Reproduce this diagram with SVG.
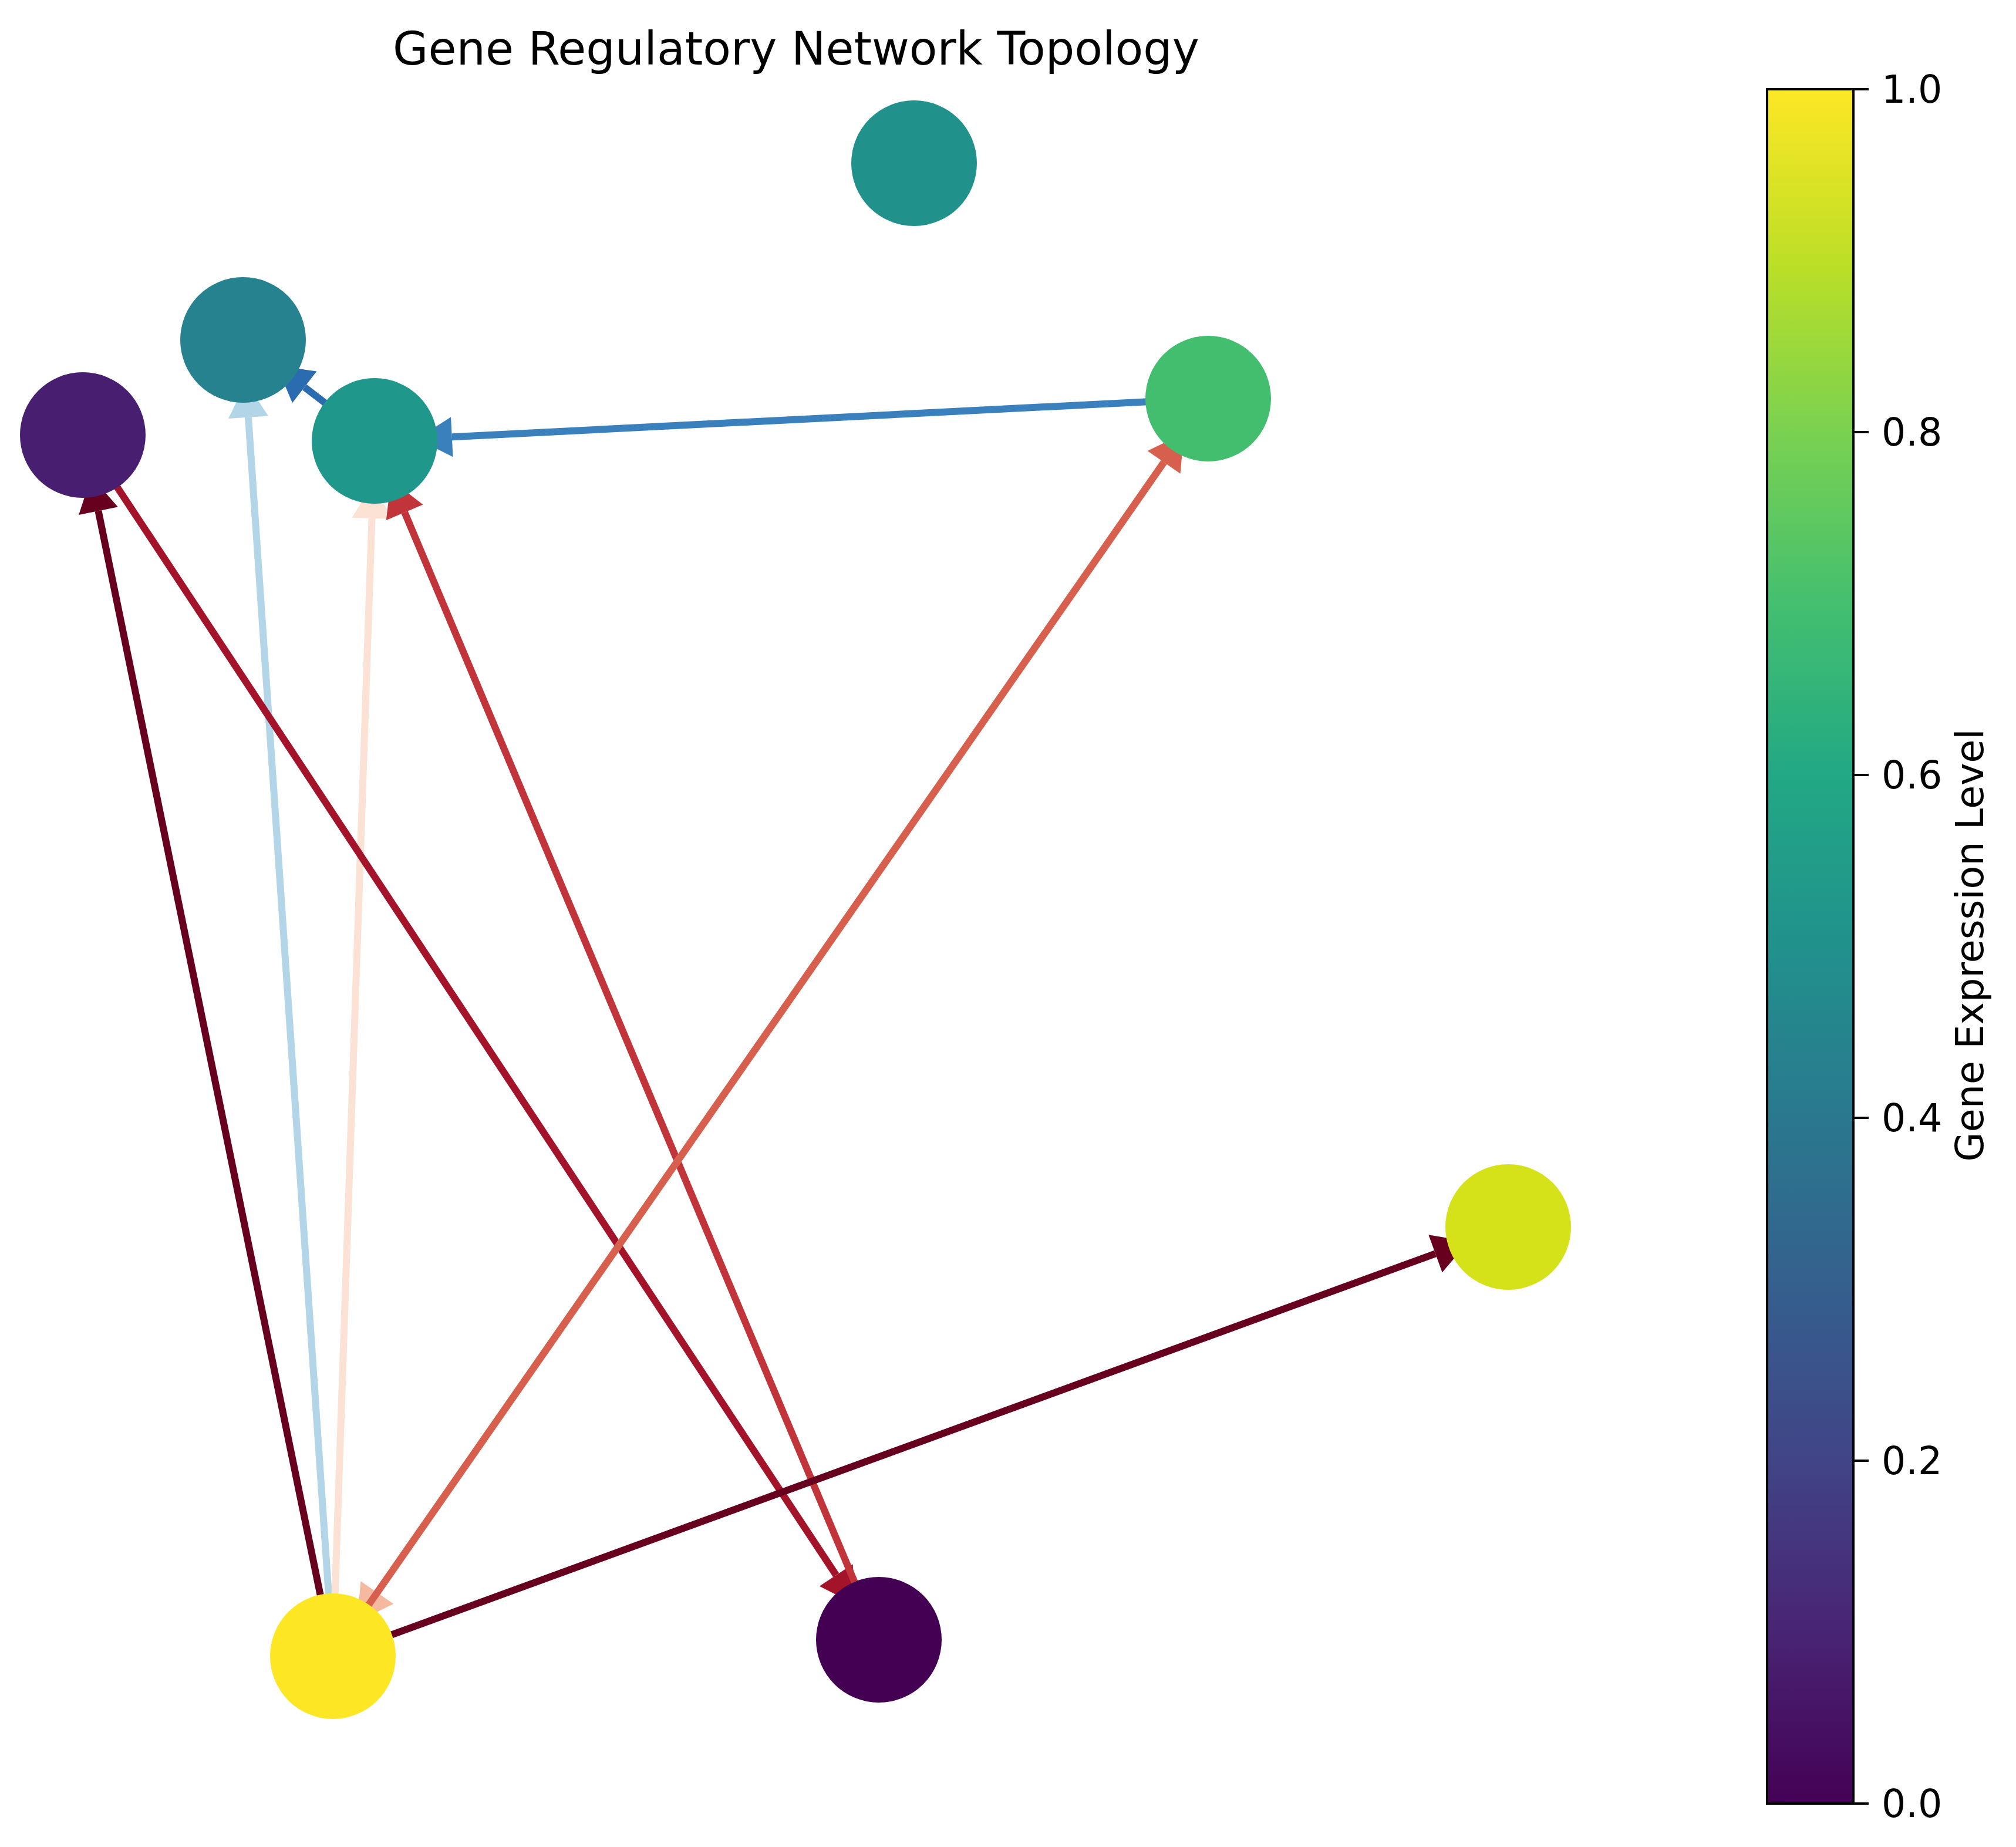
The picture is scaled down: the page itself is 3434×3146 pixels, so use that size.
<svg xmlns="http://www.w3.org/2000/svg" width="3434" height="3146" viewBox="0 0 3434 3146">
<style>
.edge{fill:none;stroke-width:12;stroke-linecap:butt}
.lbl{font-family:"DejaVu Sans",sans-serif;fill:#000}
.tick{stroke:#000;stroke-width:4}
</style>
<defs>
<linearGradient id="viridis" x1="0" y1="1" x2="0" y2="0">
<stop offset="0" stop-color="#440154"/>
<stop offset="0.1" stop-color="#482475"/>
<stop offset="0.2" stop-color="#414487"/>
<stop offset="0.3" stop-color="#355f8d"/>
<stop offset="0.4" stop-color="#2a788e"/>
<stop offset="0.5" stop-color="#21918c"/>
<stop offset="0.6" stop-color="#22a884"/>
<stop offset="0.7" stop-color="#44bf70"/>
<stop offset="0.8" stop-color="#7ad151"/>
<stop offset="0.9" stop-color="#bddf26"/>
<stop offset="1" stop-color="#fde725"/>
</linearGradient>
<marker id="mDark" markerUnits="userSpaceOnUse" orient="auto" refX="0" refY="0" markerWidth="80" markerHeight="80" viewBox="0 -40 80 80" overflow="visible"><path d="M0,-34 L60,0 L0,34 Z" fill="#67001f"/></marker>
<marker id="mLBlue" markerUnits="userSpaceOnUse" orient="auto" refX="0" refY="0" markerWidth="80" markerHeight="80" viewBox="0 -40 80 80" overflow="visible"><path d="M0,-34 L60,0 L0,34 Z" fill="#b2d6e8"/></marker>
<marker id="mPeach" markerUnits="userSpaceOnUse" orient="auto" refX="0" refY="0" markerWidth="80" markerHeight="80" viewBox="0 -40 80 80" overflow="visible"><path d="M0,-34 L60,0 L0,34 Z" fill="#fbe2d4"/></marker>
<marker id="mCrimson" markerUnits="userSpaceOnUse" orient="auto" refX="0" refY="0" markerWidth="80" markerHeight="80" viewBox="0 -40 80 80" overflow="visible"><path d="M0,-34 L60,0 L0,34 Z" fill="#a3132a"/></marker>
<marker id="mRed" markerUnits="userSpaceOnUse" orient="auto" refX="0" refY="0" markerWidth="80" markerHeight="80" viewBox="0 -40 80 80" overflow="visible"><path d="M0,-34 L60,0 L0,34 Z" fill="#c0343a"/></marker>
<marker id="mOrange" markerUnits="userSpaceOnUse" orient="auto" refX="0" refY="0" markerWidth="80" markerHeight="80" viewBox="0 -40 80 80" overflow="visible"><path d="M0,-34 L60,0 L0,34 Z" fill="#d6604d"/></marker>
<marker id="mSalmon" markerUnits="userSpaceOnUse" orient="auto" refX="0" refY="0" markerWidth="80" markerHeight="80" viewBox="0 -40 80 80" overflow="visible"><path d="M0,-34 L60,0 L0,34 Z" fill="#f4b99e"/></marker>
<marker id="mBlue" markerUnits="userSpaceOnUse" orient="auto" refX="0" refY="0" markerWidth="80" markerHeight="80" viewBox="0 -40 80 80" overflow="visible"><path d="M0,-34 L60,0 L0,34 Z" fill="#3a80bd"/></marker>
<marker id="mDBlue" markerUnits="userSpaceOnUse" orient="auto" refX="0" refY="0" markerWidth="80" markerHeight="80" viewBox="0 -40 80 80" overflow="visible"><path d="M0,-34 L60,0 L0,34 Z" fill="#2b6cb0"/></marker>
</defs>
<rect x="0" y="0" width="3434" height="3146" fill="#ffffff"/>
<text class="lbl" x="1356" y="110" font-size="78" text-anchor="middle">Gene Regulatory Network Topology</text>
<g id="connectors">
<line class="edge" x1="567" y1="2821" x2="167.5" y2="870.3" stroke="#67001f" marker-end="url(#mDark)"/>
<line class="edge" x1="567" y1="2821" x2="423" y2="710.7" stroke="#b2d6e8" marker-end="url(#mLBlue)"/>
<line class="edge" x1="567" y1="2821" x2="633.5" y2="882.9" stroke="#fbe2d4" marker-end="url(#mPeach)"/>
<line class="edge" x1="141" y1="741" x2="1424.2" y2="2682.9" stroke="#a3132a" marker-end="url(#mCrimson)"/>
<line class="edge" x1="1497" y1="2793" x2="689.2" y2="872.7" stroke="#c0343a" marker-end="url(#mRed)"/>
<line class="edge" x1="2058" y1="679" x2="642.4" y2="2712.7" stroke="#f4b99e" marker-end="url(#mSalmon)"/>
<line class="edge" x1="567" y1="2821" x2="1982.6" y2="787.3" stroke="#d6604d" marker-end="url(#mOrange)"/>
<line class="edge" x1="2058" y1="679" x2="769.8" y2="744.3" stroke="#3a80bd" marker-end="url(#mBlue)"/>
<line class="edge" x1="638" y1="751" x2="518.7" y2="659.4" stroke="#2b6cb0" marker-end="url(#mDBlue)"/>
<line class="edge" x1="567" y1="2821" x2="2445" y2="2135.3" stroke="#67001f" marker-end="url(#mDark)"/>
</g>
<g id="node1"><circle cx="1557" cy="278" r="107" fill="#21918c"/></g>
<g id="node2"><circle cx="414" cy="579" r="107" fill="#26828e"/></g>
<g id="node3"><circle cx="141" cy="741" r="107" fill="#481f70"/></g>
<g id="node4"><circle cx="638" cy="751" r="107" fill="#1f988b"/></g>
<g id="node5"><circle cx="2058" cy="679" r="107" fill="#43be6f"/></g>
<g id="node6"><circle cx="2569" cy="2090" r="107" fill="#d5e21a"/></g>
<g id="node7"><circle cx="567" cy="2821" r="107" fill="#fde725"/></g>
<g id="node8"><circle cx="1497" cy="2793" r="107" fill="#440154"/></g>
<g id="colorbar">
<rect x="3010" y="152" width="147" height="2920" fill="url(#viridis)" stroke="#000" stroke-width="4"/>
<line class="tick" x1="3157" y1="3072" x2="3183" y2="3072"/>
<line class="tick" x1="3157" y1="2488" x2="3183" y2="2488"/>
<line class="tick" x1="3157" y1="1904" x2="3183" y2="1904"/>
<line class="tick" x1="3157" y1="1320" x2="3183" y2="1320"/>
<line class="tick" x1="3157" y1="736" x2="3183" y2="736"/>
<line class="tick" x1="3157" y1="152" x2="3183" y2="152"/>
<text class="lbl" x="3205" y="3095" font-size="65">0.0</text>
<text class="lbl" x="3205" y="2511" font-size="65">0.2</text>
<text class="lbl" x="3205" y="1927" font-size="65">0.4</text>
<text class="lbl" x="3205" y="1343" font-size="65">0.6</text>
<text class="lbl" x="3205" y="759" font-size="65">0.8</text>
<text class="lbl" x="3205" y="175" font-size="65">1.0</text>
<text class="lbl" x="0" y="0" font-size="65" text-anchor="middle" transform="translate(3378,1610) rotate(-90)">Gene Expression Level</text>
</g>
</svg>
